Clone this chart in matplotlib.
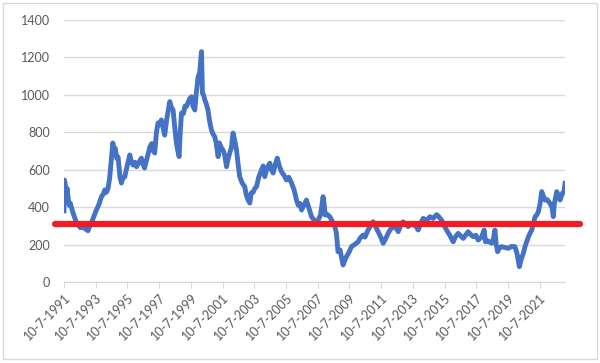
import matplotlib
matplotlib.use('Agg')
import matplotlib.pyplot as plt
import matplotlib.patches as mpatches
import numpy as np

plt.rcParams['font.family'] = ['Lato', 'DejaVu Sans']

# series (decimal year, value)
years = [1991.52, 1991.55, 1991.60, 1991.65, 1991.72, 1991.77, 1991.85, 1991.92,
         1992.05, 1992.20, 1992.30, 1992.40, 1992.55, 1992.72, 1992.85, 1993.03,
         1993.15, 1993.25, 1993.40, 1993.56, 1993.70, 1993.88, 1994.00, 1994.09,
         1994.20, 1994.30, 1994.40, 1994.50, 1994.60, 1994.68, 1994.75, 1994.85,
         1994.93, 1995.05, 1995.14, 1995.25, 1995.35, 1995.50, 1995.67, 1995.75,
         1995.87, 1996.00, 1996.09, 1996.25, 1996.40, 1996.50, 1996.60, 1996.75,
         1996.93, 1997.05, 1997.15, 1997.24, 1997.35, 1997.45, 1997.55, 1997.66,
         1997.75, 1997.87, 1998.00, 1998.10, 1998.19, 1998.30, 1998.40, 1998.50,
         1998.61, 1998.70, 1998.78, 1998.85, 1998.93, 1999.05, 1999.15, 1999.24,
         1999.35, 1999.45, 1999.56, 1999.65, 1999.77, 1999.85, 1999.98, 2000.08,
         2000.19, 2000.25, 2000.32, 2000.40, 2000.50, 2000.60, 2000.70, 2000.82,
         2000.92, 2001.03, 2001.12, 2001.24, 2001.32, 2001.42, 2001.55, 2001.65,
         2001.77, 2001.87, 2001.97, 2002.08, 2002.18, 2002.28, 2002.40, 2002.50,
         2002.60, 2002.75, 2002.92, 2003.00, 2003.13, 2003.24, 2003.32, 2003.45,
         2003.55, 2003.66, 2003.80, 2003.97, 2004.08, 2004.18, 2004.30, 2004.40,
         2004.50, 2004.60, 2004.71, 2004.85, 2004.97, 2005.10, 2005.24, 2005.40,
         2005.55, 2005.70, 2005.87, 2006.00, 2006.10, 2006.18, 2006.30, 2006.40,
         2006.50, 2006.65, 2006.81, 2006.95, 2007.13, 2007.30, 2007.44, 2007.60,
         2007.70, 2007.86, 2007.92, 2008.00, 2008.15, 2008.28, 2008.40, 2008.50,
         2008.62, 2008.70, 2008.80, 2008.93, 2009.05, 2009.12, 2009.20, 2009.33,
         2009.50, 2009.65, 2009.85, 2010.07, 2010.20, 2010.38, 2010.50, 2010.70,
         2010.85, 2011.01, 2011.15, 2011.33, 2011.50, 2011.65, 2011.80, 2011.96,
         2012.10, 2012.28, 2012.45, 2012.60, 2012.75, 2012.91, 2013.05, 2013.23,
         2013.40, 2013.54, 2013.70, 2013.86, 2014.00, 2014.17, 2014.40, 2014.60,
         2014.80, 2015.02, 2015.15, 2015.33, 2015.50, 2015.65, 2015.85, 2016.07,
         2016.20, 2016.38, 2016.55, 2016.70, 2016.85, 2017.01, 2017.15, 2017.33,
         2017.50, 2017.64, 2017.85, 2018.02, 2018.10, 2018.25, 2018.49, 2018.60,
         2018.70, 2018.78, 2018.87, 2019.00, 2019.12, 2019.30, 2019.54, 2019.75,
         2019.96, 2020.10, 2020.24, 2020.35, 2020.49, 2020.60, 2020.70, 2020.85,
         2021.02, 2021.12, 2021.23, 2021.35, 2021.44, 2021.55, 2021.65, 2021.75,
         2021.85, 2022.00, 2022.17, 2022.30, 2022.38, 2022.45, 2022.60, 2022.70,
         2022.81, 2022.95, 2023.05, 2023.12]
values = [380, 545, 520, 470, 500, 456, 410, 420,
          380, 342, 320, 305, 290, 295, 285, 274,
          300, 315, 350, 385, 410, 456, 470, 492,
          480, 502, 556, 650, 743, 700, 715, 660,
          668, 560, 529, 560, 561, 620, 679, 650,
          625, 640, 616, 640, 662, 630, 609, 660,
          720, 740, 700, 689, 800, 850, 840, 866,
          830, 785, 870, 920, 964, 930, 919, 830,
          743, 700, 670, 800, 903, 900, 940, 937,
          960, 980, 990, 940, 919, 1000, 1097, 1120,
          1231, 1010, 1000, 973, 950, 919, 860, 812,
          790, 776, 740, 670, 743, 720, 705, 680,
          616, 660, 689, 720, 796, 760, 705, 630,
          563, 530, 509, 470, 438, 422, 475, 480,
          500, 509, 560, 598, 620, 563, 600, 620,
          635, 600, 582, 630, 662, 620, 589, 570,
          545, 560, 529, 500, 470, 438, 410, 420,
          385, 410, 438, 400, 349, 330, 315, 340,
          358, 456, 420, 358, 360, 349, 330, 315,
          290, 262, 162, 171, 120, 91, 110, 135,
          160, 189, 200, 215, 235, 251, 240, 278,
          300, 322, 300, 269, 240, 207, 230, 260,
          280, 296, 290, 269, 300, 322, 310, 296,
          310, 305, 300, 278, 310, 340, 330, 349,
          340, 360, 350, 331, 300, 278, 250, 215,
          240, 260, 245, 233, 250, 269, 255, 242,
          250, 224, 240, 278, 215, 220, 207, 230,
          278, 200, 162, 185, 189, 185, 180, 190,
          189, 150, 82, 120, 153, 190, 215, 250,
          278, 310, 349, 360, 376, 420, 483, 460,
          438, 440, 420, 400, 349, 420, 483, 460,
          438, 474, 480, 527]

level = 310

tick_years = list(range(1991, 2022, 2))
tick_labels = ['10-7-{}'.format(y) for y in tick_years]

fig = plt.figure(figsize=(6.0, 3.63), dpi=100)
ax = fig.add_axes([0.1067, 0.2231, 0.835, 0.7218])

grey = '#d9d9d9'
txt = '#595959'

ax.plot(years, values, color='#4472c4', lw=3.5, solid_joinstyle='round', zorder=3)

# red horizontal line, runs a bit past the plot area on both sides
tr = ax.get_yaxis_transform()
ax.plot([-0.018, 1.03], [level, level], transform=tr, color='#ee1c25', lw=4.5,
        solid_capstyle='round', clip_on=False, zorder=4)

ax.set_ylim(0, 1400)
ax.set_yticks(np.arange(0, 1401, 200))
ax.set_xlim(years[0], years[-1])
ax.set_xticks([y + 0.52 for y in tick_years])
ax.set_xticklabels(tick_labels, rotation=45, ha='right', va='top',
                   rotation_mode='anchor')

ax.grid(axis='y', color=grey, lw=1)
ax.set_axisbelow(True)
for s in ['top', 'right', 'left']:
    ax.spines[s].set_visible(False)
ax.spines['bottom'].set_color(grey)
ax.tick_params(axis='y', length=0, pad=10, labelsize=9, labelcolor=txt)
ax.tick_params(axis='x', length=4, color=grey, pad=3, labelsize=9, labelcolor=txt)

fig.patches.append(mpatches.Rectangle((0.005, 0.012), 0.99, 0.98, transform=fig.transFigure,
                                      fill=False, edgecolor=grey, lw=1))

fig.savefig('out.png', dpi=100)
